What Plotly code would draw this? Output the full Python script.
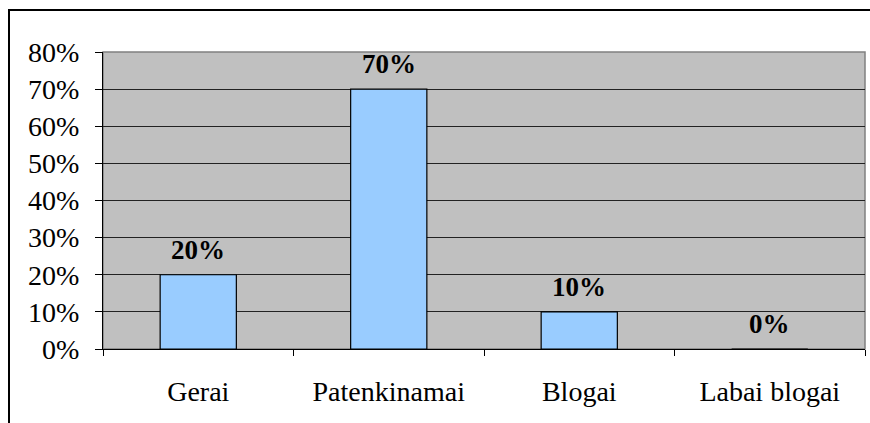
import plotly.graph_objects as go

categories = ["Gerai", "Patenkinamai", "Blogai", "Labai blogai"]
shares = [0.20, 0.70, 0.10, 0.0]
share_labels = ["20%", "70%", "10%", "0%"]

serif = "'Liberation Serif', 'Times New Roman', serif"

fig = go.Figure()
fig.add_trace(go.Bar(
    x=categories, y=shares, width=0.4,
    marker=dict(color="#99CCFF", line=dict(color="black", width=1.2)),
    hoverinfo="skip", showlegend=False,
))

# bold value labels above each bar
for cat, val, txt in zip(categories, shares, share_labels):
    fig.add_annotation(x=cat, y=val, text="<b>%s</b>" % txt, showarrow=False,
                       yshift=25, font=dict(family=serif, size=27, color="black"))

# plot area left 103, right 865, top 52, bottom 349
L, R, T, B = 103, 5, 52, 74
W, H = 870, 423
pw, ph = W - L - R, H - T - B
# outer chart border (cropped at right and bottom)
fig.add_shape(type="rect", xref="paper", yref="paper", layer="above",
              x0=(9 - L) / pw, x1=(880 - L) / pw,
              y0=(349 - 440) / ph, y1=(349 - 10) / ph,
              line=dict(color="black", width=2), fillcolor="rgba(0,0,0,0)")

fig.update_layout(
    width=W, height=H, margin=dict(l=L, r=R, t=T, b=B),
    paper_bgcolor="white", plot_bgcolor="#C0C0C0",
    font=dict(family=serif, size=28, color="black"),
    bargap=0.6,
)
fig.update_xaxes(
    type="category", tickson="boundaries", ticks="outside", ticklen=6,
    tickcolor="black", showline=True, linecolor="black", linewidth=1,
    showgrid=False, ticklabelstandoff=17, tickfont=dict(size=28),
    automargin=False,
)
fig.update_yaxes(
    range=[0, 0.8], dtick=0.1, tickformat=".0%", ticks="outside", ticklen=7,
    tickcolor="black", showline=True, linecolor="black", linewidth=1,
    gridcolor="#222222", gridwidth=1, zeroline=False, ticklabelstandoff=10,
    tickfont=dict(size=28), automargin=False,
)
# gray plot-area frame on top and right
fig.add_shape(type="rect", xref="paper", yref="paper", layer="below",
              x0=0, x1=1, y0=0, y1=1, line=dict(color="#808080", width=1.5))

fig.write_html("out.html", config={"displayModeBar": False},
               post_script="document.body.style.margin='0';")
